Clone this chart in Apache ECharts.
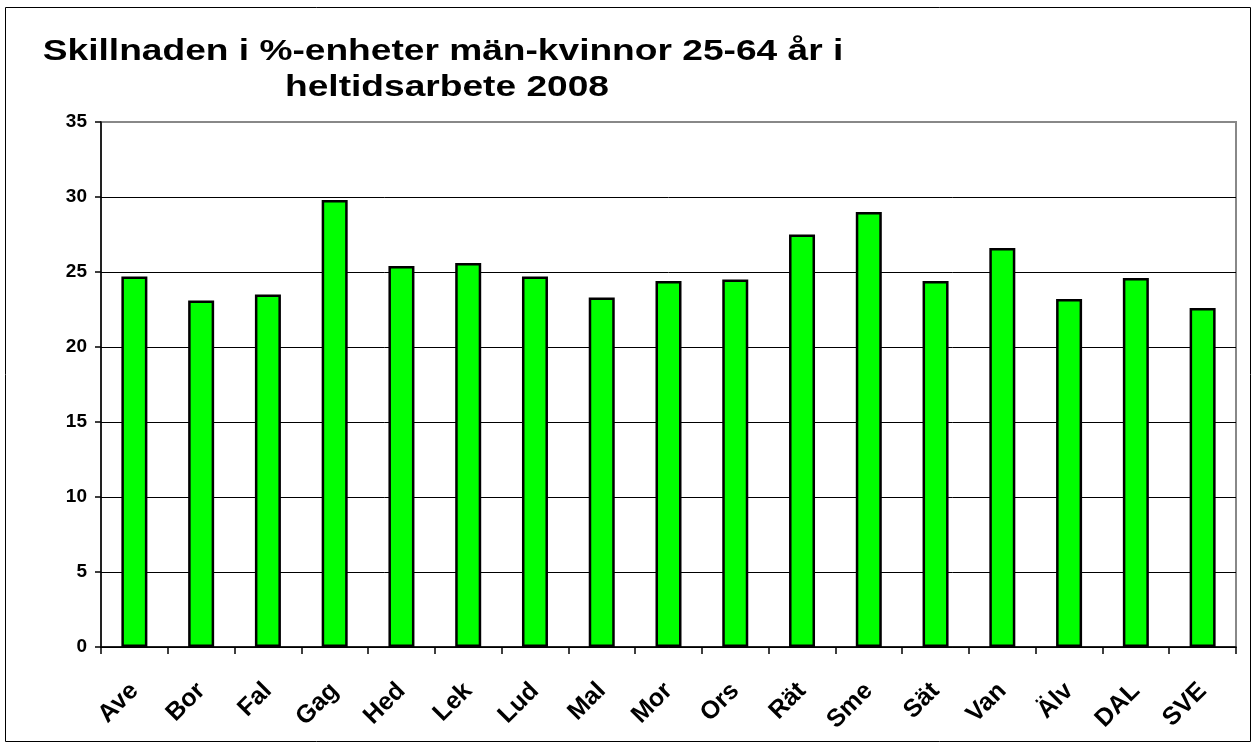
<!DOCTYPE html>
<html>
<head>
<meta charset="utf-8">
<style>
html,body{margin:0;padding:0;background:#fff;}
#chart{width:1256px;height:746px;}
</style>
<script src="https://cdn.jsdelivr.net/npm/echarts@6/dist/echarts.min.js"></script>
</head>
<body>
<div id="chart"></div>
<script>
const categories = ['Ave','Bor','Fal','Gag','Hed','Lek','Lud','Mal','Mor','Ors','Rät','Sme','Sät','Van','Älv','DAL','SVE'];
const values = [24.7, 23.1, 23.5, 29.8, 25.4, 25.6, 24.7, 23.3, 24.4, 24.5, 27.5, 29.0, 24.4, 26.6, 23.2, 24.6, 22.6];
const titleLines = ['Skillnaden i %-enheter män-kvinnor 25-64 år i', 'heltidsarbete 2008'];

const chart = echarts.init(document.getElementById('chart'));
const font = '"Liberation Sans", Arial, sans-serif';
chart.setOption({
  animation: false,
  backgroundColor: '#fff',
  graphic: [{
    type: 'rect', shape: { x: 5.5, y: 7.5, width: 1245, height: 734 },
    style: { fill: null, stroke: '#000', lineWidth: 1 }, silent: true, z: 100
  }, {
    type: 'text', x: 443, y: 37, scaleX: 1.28, silent: true,
    style: { text: titleLines[0], fill: '#000', font: 'bold 29px "Liberation Sans", Arial, sans-serif', textAlign: 'center', textVerticalAlign: 'top' }
  }, {
    type: 'text', x: 447, y: 73, scaleX: 1.28, silent: true,
    style: { text: titleLines[1], fill: '#000', font: 'bold 29px "Liberation Sans", Arial, sans-serif', textAlign: 'center', textVerticalAlign: 'top' }
  }],
  grid: { left: 101, right: 20, top: 122, bottom: 99, show: true, borderColor: '#888', borderWidth: 2, containLabel: false },
  xAxis: {
    type: 'category', data: categories,
    axisLine: { lineStyle: { color: '#000', width: 1.5 } },
    axisTick: { show: true, length: 7, lineStyle: { color: '#000', width: 1.5 } },
    axisLabel: { rotate: 45, margin: 40, fontFamily: font, fontWeight: 'bold', fontSize: 25, color: '#000', interval: 0 }
  },
  yAxis: {
    type: 'value', min: 0, max: 35, interval: 5,
    axisLine: { show: true, lineStyle: { color: '#000', width: 1.5 } },
    axisTick: { show: true, length: 6, lineStyle: { color: '#000', width: 1.5 } },
    axisLabel: { margin: 14, fontFamily: font, fontWeight: 'bold', fontSize: 19, color: '#000' },
    splitLine: { show: true, lineStyle: { color: ['#000','#000','#000','#000','#000','#000','#000','#888'], width: 1 } }
  },
  series: [{
    type: 'bar', data: values, barWidth: 26,
    itemStyle: { color: '#00ff00', borderColor: '#000', borderWidth: 2.5 }
  }]
});
</script>
</body>
</html>
